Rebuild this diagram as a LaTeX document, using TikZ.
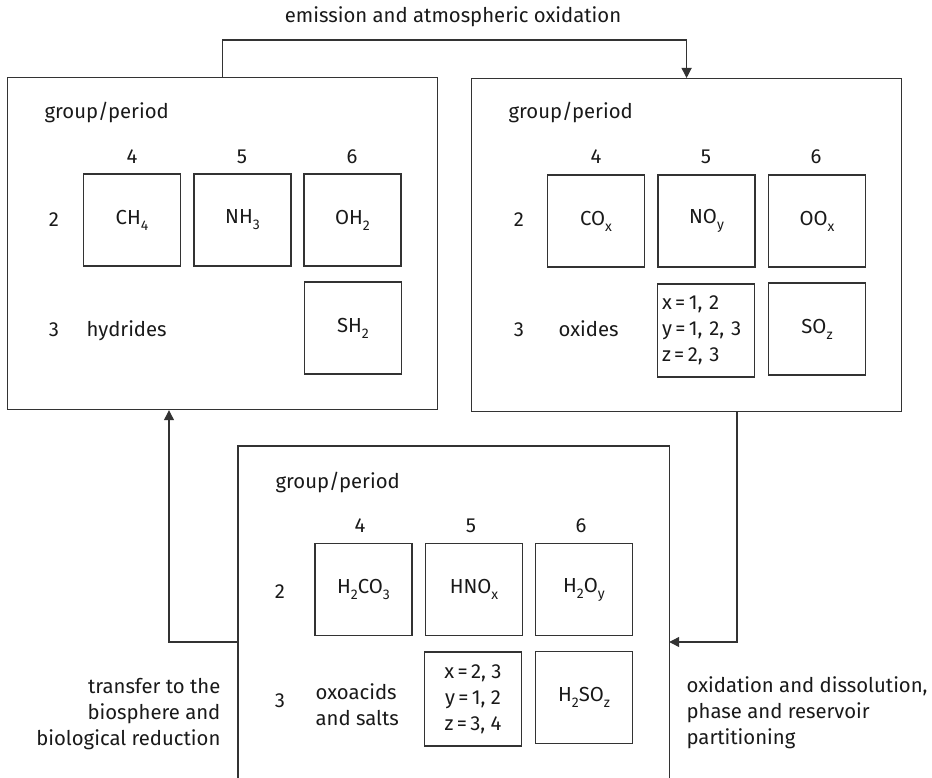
\documentclass[tikz,border=0pt]{standalone}
\usepackage{fontspec}
\setmainfont{Fira Sans}
\usetikzlibrary{arrows.meta,calc}
% chemical index: lowered and a little smaller than the running text
\newcommand\chidx[1]{\raisebox{-0.3em}{\fontsize{14}{14}\selectfont #1}}
\begin{document}
\begin{tikzpicture}[x=1pt,y=-1pt,
  line width=1.2pt, draw={black!80},
  every node/.style={font=\fontsize{20.3}{26}\selectfont, inner sep=0pt, text=black!90},
  panel/.style={draw, rectangle, anchor=north west},
  cell/.style={draw, rectangle, minimum width=97pt, minimum height=92pt},
  lbl/.style={anchor=base},
  arr/.style={-{Triangle[length=10pt,width=10pt]}}]
\useasboundingbox (0,0) rectangle (932,778);

% three panels
\node[panel, minimum width=430pt, minimum height=332pt] (L) at (7,77) {};
\node[panel, minimum width=430pt, minimum height=333pt] (R) at (471,78) {};
\node[anchor=north west, minimum width=430pt, minimum height=332pt] (B) at (238,446) {};
\draw (B.south west) -- (B.north west) -- (B.north east) -- (B.south east);

% hydrides panel
\node[lbl, anchor=base west] (Lt) at (44,119) {group/period};
\node[lbl] (Lc4) at (132,164) {4};
\node[lbl] (Lc5) at (242,164) {5};
\node[lbl] (Lc6) at (352,164) {6};
\node[lbl] (Lr2) at (54,227) {2};
\node[lbl] (Lr3) at (54,336) {3};
\node[lbl, anchor=base west] (Lname) at (86,336) {hydrides};
\node[cell] (ch4) at (132,220) {CH\chidx{4}};
\node[cell] (nh3) at (242.5,220) {NH\chidx{3}};
\node[cell] (oh2) at (352.5,220) {OH\chidx{2}};
\node[cell] (sh2) at (353,328) {SH\chidx{2}};

% oxides panel
\node[lbl, anchor=base west] (Rt) at (508,119) {group/period};
\node[lbl] (Rc4) at (596,164) {4};
\node[lbl] (Rc5) at (706,164) {5};
\node[lbl] (Rc6) at (816,164) {6};
\node[lbl] (Rr2) at (519,227) {2};
\node[lbl] (Rr3) at (519,336) {3};
\node[lbl, anchor=base west] (Rname) at (558,336) {oxides};
\node[cell] (cox) at (596,221) {CO\chidx{x}};
\node[cell] (noy) at (706.5,221) {NO\chidx{y}};
\node[cell] (oox) at (817,221) {OO\chidx{x}};
\node[cell, minimum height=93pt, text width=88pt, align=left] (Rxyz) at (706,330.5)
  {x\,=\,1, 2\\y\,=\,1, 2, 3\\z\,=\,2, 3};
\node[cell] (soz) at (817,329) {SO\chidx{z}};

% oxoacids panel
\node[lbl, anchor=base west] (Bt) at (275,488) {group/period};
\node[lbl] (Bc4) at (360,532) {4};
\node[lbl] (Bc5) at (471,532) {5};
\node[lbl] (Bc6) at (581,532) {6};
\node[lbl] (Br2) at (280,598) {2};
\node[lbl] (Br3) at (280,707) {3};
\node[anchor=west, align=left] (Bname) at (315,705) {oxoacids\\and salts};
\node[cell] (h2co3) at (363.5,589.5) {H\chidx{2}CO\chidx{3}};
\node[cell] (hnox) at (474,589.5) {HNO\chidx{x}};
\node[cell] (h2oy) at (584,589.5) {H\chidx{2}O\chidx{y}};
\node[cell, minimum height=94pt, align=center] (Bxyz) at (473,699)
  {x\,=\,2, 3\\y\,=\,1, 2\\z\,=\,3, 4};
\node[cell] (h2so) at (584,697.5) {H\chidx{2}SO\chidx{z}};

% process labels
\node (emis) at (453,17) {emission and atmospheric oxidation};
\node[anchor=east, align=right] (bio) at (221,714)
  {transfer to the\\biosphere and\\biological reduction};
\node[anchor=west, align=left] (oxd) at (686,713)
  {oxidation and dissolution,\\phase and reservoir\\partitioning};

% cycle connectors
\coordinate (top) at (222,40);
\coordinate (rd) at (737,642);
\coordinate (ld) at (169,642);
\draw[arr] (L.north) -- (L.north |- top) -| (R.north);
\draw[arr] (R.south -| rd) |- (B.east |- rd);
\draw[arr] (B.west |- ld) -| (L.south -| ld);
\end{tikzpicture}
\end{document}
